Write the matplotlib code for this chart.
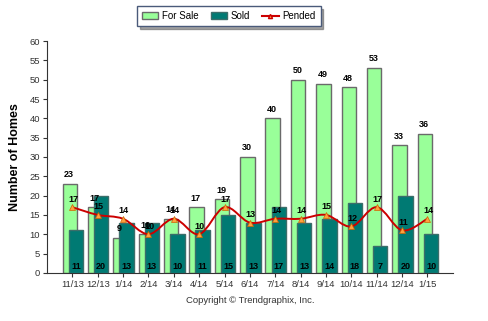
import numpy as np
import matplotlib
matplotlib.use("Agg")
import matplotlib.pyplot as plt
from matplotlib.path import Path
from matplotlib.patches import PathPatch

plt.rcParams['font.family'] = ['Liberation Sans', 'DejaVu Sans']

months = ['11/13', '12/13', '1/14', '2/14', '3/14', '4/14', '5/14', '6/14',
          '7/14', '8/14', '9/14', '10/14', '11/14', '12/14', '1/15']
for_sale = [23, 17, 9, 10, 14, 17, 19, 30, 40, 50, 49, 48, 53, 33, 36]
sold = [11, 20, 13, 13, 10, 11, 15, 13, 17, 13, 14, 18, 7, 20, 10]
pended = [17, 15, 14, 10, 14, 10, 17, 13, 14, 14, 15, 12, 17, 11, 14]

x = np.arange(len(months))

fig = plt.figure(figsize=(4.89, 3.21), dpi=100)
ax = fig.add_axes([0.096, 0.150, 0.830, 0.722])

# barras superpuestas
b1 = ax.bar(x - 0.1, for_sale, width=0.57, color='#99FF99', edgecolor='#6a6a6a',
            linewidth=1, label='For Sale', zorder=2)
b2 = ax.bar(x + 0.14, sold, width=0.57, color='#007A73', edgecolor='#3c6e6a',
            linewidth=1, label='Sold', zorder=3)

# linea suavizada (Catmull-Rom -> Bezier) para Pended
pts = np.column_stack([x, pended]).astype(float)
verts = [tuple(pts[0])]
codes = [Path.MOVETO]
for i in range(len(pts) - 1):
    p0 = pts[i - 1] if i > 0 else pts[i]
    p1 = pts[i]
    p2 = pts[i + 1]
    p3 = pts[i + 2] if i + 2 < len(pts) else pts[i + 1]
    c1 = p1 + (p2 - p0) / 6
    c2 = p2 - (p3 - p1) / 6
    verts += [tuple(c1), tuple(c2), tuple(p2)]
    codes += [Path.CURVE4] * 3
ax.add_patch(PathPatch(Path(verts, codes), facecolor='none', edgecolor='#CC0000',
                       linewidth=1.4, zorder=4))
ax.plot(x, pended, linestyle='none', marker='^', markersize=5,
        markerfacecolor='#FFA040', markeredgecolor='#CC6600', markeredgewidth=0.5,
        zorder=5)
l1, = ax.plot([], [], color='#CC0000', marker='^', markersize=3,
              markerfacecolor='#FFA040', label='Pended')

# etiquetas de valores
for i in range(len(x)):
    ax.text(x[i] - 0.13, for_sale[i] + 1.2, str(for_sale[i]), ha='center',
            va='bottom', fontsize=6.5, fontweight='bold', zorder=6)
    ax.text(x[i] + 0.14, 0.6, str(sold[i]), ha='center', va='bottom',
            fontsize=6.5, fontweight='bold', zorder=6)
    ax.text(x[i] + 0.03, pended[i] + 0.9, str(pended[i]), ha='center', va='bottom',
            fontsize=6.5, fontweight='bold', zorder=6)

ax.set_xlim(-1, 15)
ax.set_ylim(0, 60)
ax.set_yticks(range(0, 61, 5))
ax.set_xticks(x)
ax.set_xticklabels(months)
ax.tick_params(labelsize=6.8, length=3, width=0.8, colors='#333333', pad=2)
ax.spines['top'].set_visible(False)
ax.spines['right'].set_visible(False)
ax.spines['left'].set_color('#333333')
ax.spines['bottom'].set_color('#333333')
ax.set_ylabel('Number of Homes', fontsize=9, fontweight='bold', labelpad=6)

leg = fig.legend(handles=[b1, b2, l1], loc='upper center',
                 bbox_to_anchor=(0.468, 0.995), ncol=3,
                 fontsize=7, frameon=True, fancybox=False, shadow=True,
                 handlelength=1.7, handleheight=0.75, handletextpad=0.4,
                 columnspacing=1.2, borderpad=0.5)
leg.get_frame().set_edgecolor('#4a5a7a')

fig.text(0.511, 0.065, 'Copyright \u00a9 Trendgraphix, Inc.', ha='center',
         va='center', fontsize=6.8, color='#333333')

fig.savefig('out.png', dpi=100)
